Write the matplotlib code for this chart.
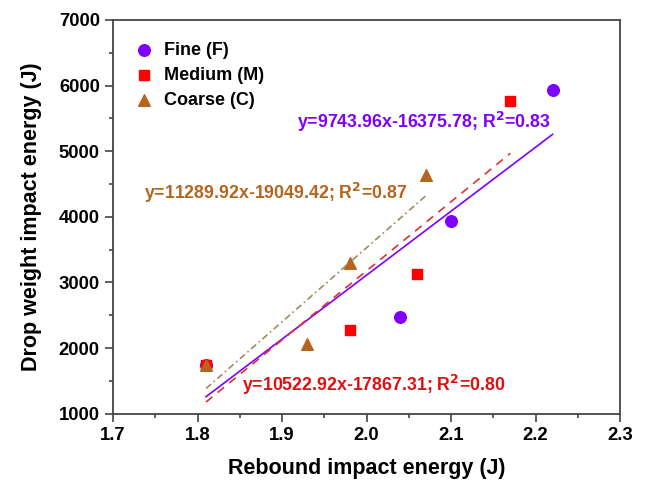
import matplotlib
matplotlib.use("Agg")
import matplotlib.pyplot as plt
from matplotlib.ticker import MultipleLocator

plt.rcParams['font.family'] = ['Liberation Sans', 'DejaVu Sans']
plt.rcParams['font.weight'] = 'bold'

# data
fine_x = [1.81, 2.04, 2.10, 2.22]
fine_y = [1750, 2480, 3940, 5930]
med_x = [1.81, 1.98, 2.06, 2.17]
med_y = [1750, 2270, 3130, 5760]
coarse_x = [1.81, 1.93, 1.98, 2.07]
coarse_y = [1750, 2070, 3300, 4640]

# fitted lines (slope, intercept) as printed on the chart
fine_fit = (9743.96, -16375.78)
med_fit = (10522.92, -17867.31)
coarse_fit = (11289.92, -19049.42)

c_fine = '#8000ff'
c_med = '#ff0000'
c_coarse = '#b5651d'

fig = plt.figure(figsize=(6.46, 4.84), dpi=100)
ax = fig.add_axes([0.175, 0.145, 0.785, 0.814])

ax.scatter(fine_x, fine_y, marker='o', s=70, color=c_fine, label='Fine (F)', zorder=3)
ax.scatter(med_x, med_y, marker='s', s=50, color=c_med, label='Medium (M)', zorder=3)
ax.scatter(coarse_x, coarse_y, marker='^', s=70, color=c_coarse, label='Coarse (C)', zorder=3)

def fit_line(xs, fit):
    x0, x1 = min(xs), max(xs)
    return [x0, x1], [fit[0] * x0 + fit[1], fit[0] * x1 + fit[1]]

lx, ly = fit_line(fine_x, fine_fit)
ax.plot(lx, ly, color=c_fine, lw=1.2, zorder=2)
lx, ly = fit_line(med_x, med_fit)
ax.plot(lx, ly, color='#e03030', lw=1.2, dashes=(5, 4), zorder=2)
lx, ly = fit_line(coarse_x, coarse_fit)
ax.plot(lx, ly, color='#a08a60', lw=1.2, dashes=(4, 2, 1, 2), zorder=2)

ax.text(2.068, 5450, 'y=9743.96x-16375.78; R$^\\mathbf{2}$=0.83', color=c_fine,
        fontsize=12.8, fontweight='bold', ha='center', va='center')
ax.text(1.892, 4365, 'y=11289.92x-19049.42; R$^\\mathbf{2}$=0.87', color=c_coarse,
        fontsize=12.8, fontweight='bold', ha='center', va='center')
ax.text(2.008, 1442, 'y=10522.92x-17867.31; R$^\\mathbf{2}$=0.80', color='#e01010',
        fontsize=12.8, fontweight='bold', ha='center', va='center')

ax.set_xlim(1.7, 2.3)
ax.set_ylim(1000, 7000)
ax.xaxis.set_major_locator(MultipleLocator(0.1))
ax.xaxis.set_minor_locator(MultipleLocator(0.05))
ax.yaxis.set_major_locator(MultipleLocator(1000))
ax.yaxis.set_minor_locator(MultipleLocator(500))
ax.xaxis.set_major_formatter(plt.FormatStrFormatter('%.1f'))
ax.tick_params(which='both', direction='out', labelsize=13.3, width=1.2, color='#444444')
ax.tick_params(which='major', length=6)
ax.tick_params(which='minor', length=3)
for s in ax.spines.values():
    s.set_linewidth(1.3)
    s.set_color('#444444')

ax.set_xlabel('Rebound impact energy (J)', fontsize=15.5, fontweight='bold', labelpad=10)
ax.set_ylabel('Drop weight impact energy (J)', fontsize=15.5, fontweight='bold', labelpad=12)

ax.legend(loc='upper left', frameon=False, fontsize=13, handletextpad=0.6,
          labelspacing=0.45, borderaxespad=0.8, handlelength=1.0)

fig.savefig('out.png', dpi=100)
